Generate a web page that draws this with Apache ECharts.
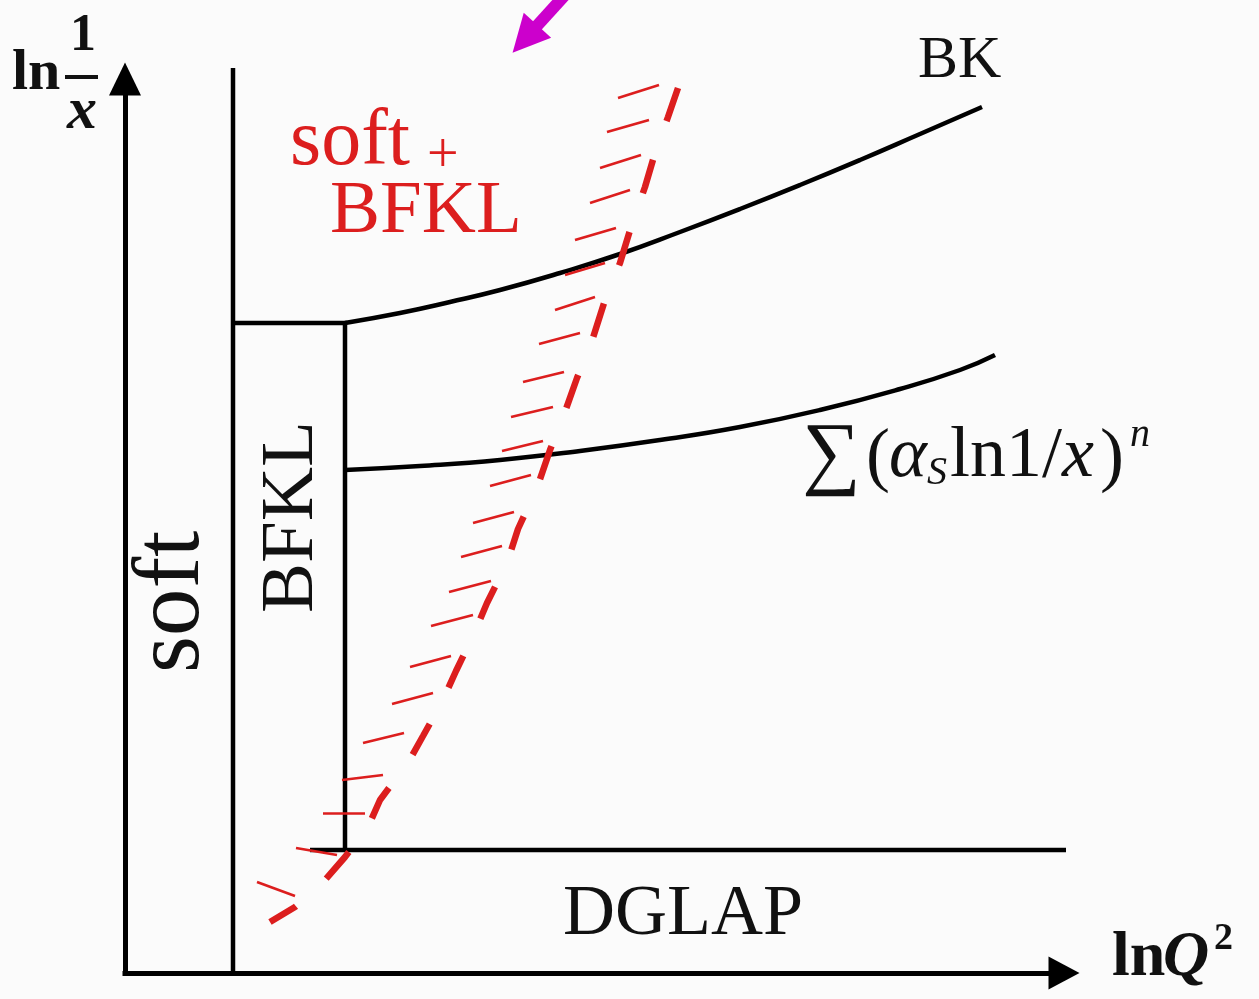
<!DOCTYPE html>
<html>
<head>
<meta charset="utf-8">
<script src="https://cdn.jsdelivr.net/npm/echarts@6/dist/echarts.min.js"></script>
<style>
html,body{margin:0;padding:0;background:#fbfbfb;}
#chart{width:1259px;height:999px;}
</style>
</head>
<body>
<div id="chart"></div>
<script>
// ---- Schematic data (x = ln Q^2, y = ln 1/x, arbitrary units) ----
const xRange = [0, 9.39];
const yRange = [0, 8.94];

// boundary between "soft" and perturbative regions
const softBoundary = [[1.08, 0], [1.08, 9.05]];
// upper edge and right edge of the BFKL box
const bfklBox = [[1.08, 6.50], [2.20, 6.50], [2.20, 1.23]];
// DGLAP lower boundary
const dglapLine = [[1.85, 1.23], [9.41, 1.23]];
// BK curve
const bkCurve = [[2.20, 6.50], [2.75, 6.60], [3.25, 6.71], [3.75, 6.83], [4.35, 7.00], [4.95, 7.19],
  [5.55, 7.41], [6.15, 7.64], [6.75, 7.88], [7.35, 8.13], [7.95, 8.39], [8.57, 8.66]];
// sum (alpha_s ln 1/x)^n curve
const sumCurve = [[2.20, 5.03], [2.95, 5.07], [3.75, 5.13], [4.55, 5.22], [5.35, 5.33], [6.15, 5.46],
  [6.95, 5.63], [7.75, 5.84], [8.35, 6.03], [8.70, 6.18]];
// red dashed saturation line (top to bottom)
const saturationLine = [
  [5.53, 8.85], [5.43, 8.56], [5.30, 8.20], [5.20, 7.86], [5.06, 7.46], [4.95, 7.10],
  [4.80, 6.73], [4.67, 6.32], [4.52, 5.95], [4.41, 5.64], [4.25, 5.23], [4.12, 4.85],
  [3.93, 4.44], [3.82, 4.10], [3.62, 3.70], [3.48, 3.37], [3.31, 3.02], [3.17, 2.71],
  [2.98, 2.37], [2.84, 2.12], [2.55, 1.73], [2.43, 1.46], [2.20, 1.16], [1.94, 0.86],
  [1.70, 0.66], [1.45, 0.51]
];
// hatch strokes on the left side of the saturation line: [x1, y1, x2, y2]
const hatches = [
  [4.93, 8.75, 5.34, 8.88], [4.82, 8.41, 5.24, 8.53], [4.75, 8.05, 5.16, 8.18],
  [4.65, 7.70, 5.05, 7.83], [4.50, 7.33, 4.91, 7.45], [4.40, 6.98, 4.80, 7.10],
  [4.30, 6.63, 4.70, 6.76], [4.14, 6.29, 4.55, 6.40], [3.98, 5.91, 4.39, 6.01],
  [3.86, 5.56, 4.28, 5.66], [3.77, 5.22, 4.18, 5.32], [3.65, 4.87, 4.06, 4.98],
  [3.48, 4.50, 3.89, 4.61], [3.36, 4.16, 3.77, 4.27], [3.24, 3.81, 3.66, 3.92],
  [3.06, 3.47, 3.48, 3.58], [2.85, 3.06, 3.26, 3.17], [2.67, 2.69, 3.08, 2.80],
  [2.38, 2.30, 2.79, 2.40], [2.17, 1.93, 2.58, 1.98], [1.98, 1.60, 2.40, 1.60],
  [1.71, 1.25, 2.12, 1.18], [1.32, 0.91, 1.70, 0.77]
];
// magenta pointer arrow at the top
const pointerArrow = [[4.40, 9.78], [4.00, 9.34]];

// ---- styles ----
const RED = '#dc1e1e';
const SERIF = '"Liberation Serif", "Times New Roman", serif';
const K = 0.28; // baseline -> middle offset (fraction of font size)

const chart = echarts.init(document.getElementById('chart'), null, {renderer: 'canvas'});

function blackLine(name, data) {
  return {
    type: 'line', name, data, symbol: 'none', showSymbol: false, clip: false,
    smooth: false, silent: true, z: 3,
    lineStyle: {color: '#000', width: 4.5, cap: 'butt', join: 'miter'}
  };
}
function smoothLine(name, data) {
  const s = blackLine(name, data);
  s.smooth = 0.5;
  s.lineStyle.join = 'round';
  return s;
}

function txt(text, x, baseline, size, opt) {
  opt = opt || {};
  return {
    type: 'text', x: x, y: baseline - size * K, z: 10, silent: true,
    style: {
      text: text, x: 0, y: 0,
      fill: opt.color || '#111',
      fontSize: size,
      fontFamily: opt.family || SERIF,
      fontWeight: opt.weight || 'normal',
      fontStyle: opt.style || 'normal',
      align: opt.align || 'left',
      verticalAlign: 'middle'
    }
  };
}
function rtxt(text, baselineX, startY, size, opt) {
  // rotated text reading bottom to top
  opt = opt || {};
  return {
    type: 'text', x: baselineX - size * K, y: startY, rotation: Math.PI / 2, z: 10, silent: true,
    style: {
      text: text, x: 0, y: 0, fill: opt.color || '#111', fontSize: size,
      fontFamily: SERIF, align: 'left', verticalAlign: 'middle'
    }
  };
}

const option = {
  backgroundColor: '#fbfbfb',
  animation: false,
  grid: {left: 125, right: 195, top: 79, bottom: 26, containLabel: false},
  xAxis: {
    type: 'value', min: xRange[0], max: xRange[1],
    axisLine: {show: true, onZero: false, symbol: ['none', 'triangle'], symbolSize: [33, 31],
      lineStyle: {color: '#000', width: 5, cap: 'square'}},
    axisTick: {show: false}, axisLabel: {show: false}, splitLine: {show: false}
  },
  yAxis: {
    type: 'value', min: yRange[0], max: yRange[1],
    axisLine: {show: true, onZero: false, symbol: ['none', 'triangle'], symbolSize: [32, 33],
      lineStyle: {color: '#000', width: 5, cap: 'square'}},
    axisTick: {show: false}, axisLabel: {show: false}, splitLine: {show: false}
  },
  series: [
    blackLine('softBoundary', softBoundary),
    blackLine('bfklBox', bfklBox),
    blackLine('dglap', dglapLine),
    smoothLine('BK', bkCurve),
    smoothLine('sum', sumCurve),
    {
      type: 'line', name: 'saturation', data: saturationLine, symbol: 'none', showSymbol: false,
      clip: false, silent: true, z: 5,
      lineStyle: {color: RED, width: 6.5, type: [35, 41], cap: 'butt'}
    },
    {
      type: 'lines', name: 'hatches', coordinateSystem: 'cartesian2d', clip: false, silent: true, z: 4,
      polyline: false,
      lineStyle: {color: RED, width: 2.6, opacity: 1},
      data: hatches.map(h => ({coords: [[h[0], h[1]], [h[2], h[3]]]}))
    },
    {
      type: 'lines', name: 'pointer', coordinateSystem: 'cartesian2d', clip: false, silent: true, z: 6,
      symbol: ['none', 'triangle'], symbolSize: 37,
      lineStyle: {color: '#cc00cc', width: 12, opacity: 1},
      data: [{coords: pointerArrow}]
    }
  ],
  graphic: [
    // y-axis label: ln 1/x
    txt('ln', 12, 90, 58, {weight: 'bold'}),
    txt('1', 83, 51, 52, {weight: 'bold', align: 'center'}),
    {type: 'rect', z: 10, silent: true, shape: {x: 65, y: 75, width: 33, height: 4}, style: {fill: '#111'}},
    txt('x', 82, 129, 60, {weight: 'bold', style: 'italic', align: 'center'}),
    // x-axis label: ln Q^2
    txt('ln', 1112, 976, 64, {weight: 'bold'}),
    txt('Q', 1163, 976, 64, {weight: 'bold', style: 'italic'}),
    txt('2', 1214, 950, 38, {weight: 'bold'}),
    // region labels
    txt('BK', 918, 78, 60),
    txt('DGLAP', 563, 935, 72),
    txt('soft', 290, 165, 80, {color: RED}),
    txt('+', 427, 173, 56, {color: RED}),
    txt('BFKL', 330, 233, 75, {color: RED}),
    rtxt('soft', 200, 673, 95),
    rtxt('BFKL', 313, 613, 75),
    // formula: sum (alpha_S ln1/x)^n
    txt('\u2211', 802, 480, 82),
    txt('(', 866, 479, 72),
    txt('\u03b1', 889, 477, 72, {style: 'italic'}),
    txt('S', 927, 485, 40, {style: 'italic'}),
    txt('ln1/', 950, 477, 72),
    txt('x', 1062, 477, 72, {style: 'italic'}),
    txt(')', 1100, 479, 72),
    txt('n', 1130, 447, 40, {style: 'italic'})
  ]
};
chart.setOption(option);
</script>
</body>
</html>
